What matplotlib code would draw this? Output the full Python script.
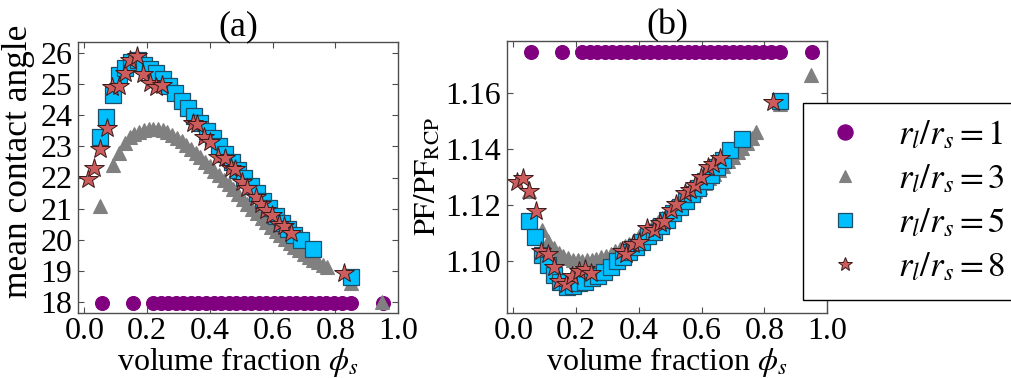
import matplotlib
matplotlib.use('Agg')
import matplotlib.pyplot as plt
from matplotlib.lines import Line2D

plt.rcParams['font.family'] = 'serif'
plt.rcParams['font.serif'] = ['Liberation Serif', 'DejaVu Serif']
plt.rcParams['mathtext.fontset'] = 'stix'

# r_l/r_s = 1
x_c = [0.055, 0.155, 0.22, 0.244, 0.268, 0.292, 0.316, 0.34, 0.364, 0.388, 0.412,
       0.436, 0.46, 0.484, 0.508, 0.532, 0.556, 0.58, 0.604, 0.628, 0.652, 0.676,
       0.70, 0.724, 0.748, 0.772, 0.796, 0.82, 0.85, 0.952]
ang_c = [17.97] * len(x_c)
pf_c = [1.1745] * len(x_c)

# r_l/r_s = 3
x_t = [0.05, 0.09, 0.11, 0.13, 0.145, 0.16, 0.175, 0.19, 0.205, 0.22, 0.235, 0.25,
       0.265, 0.28, 0.295, 0.31, 0.325, 0.34, 0.355, 0.37, 0.385, 0.40, 0.415, 0.43,
       0.445, 0.46, 0.475, 0.49, 0.505, 0.52, 0.535, 0.55, 0.565, 0.58, 0.595, 0.61,
       0.625, 0.64, 0.655, 0.67, 0.685, 0.70, 0.715, 0.73, 0.745, 0.76, 0.775, 0.85, 0.95]
ang_t = [21.1, 22.4, 22.8, 23.1, 23.3, 23.4, 23.47, 23.52, 23.55, 23.56, 23.55, 23.52,
         23.46, 23.38, 23.28, 23.17, 23.05, 22.92, 22.79, 22.65, 22.5, 22.36, 22.22, 22.08,
         21.93, 21.78, 21.63, 21.48, 21.32, 21.16, 21.0, 20.85, 20.7, 20.56, 20.42, 20.28,
         20.15, 20.02, 19.9, 19.78, 19.66, 19.55, 19.45, 19.36, 19.28, 19.2, 19.13, 18.62, 17.99]
pf_t = [1.125, 1.111, 1.107, 1.1045, 1.1028, 1.1018, 1.101, 1.1005, 1.1002, 1.1001, 1.1002, 1.1004,
        1.1008, 1.1013, 1.1019, 1.1026, 1.1034, 1.1043, 1.1052, 1.1062, 1.1075, 1.1088, 1.1101, 1.1114,
        1.1127, 1.114, 1.1153, 1.1166, 1.118, 1.1194, 1.1208, 1.1222, 1.1236, 1.125, 1.1265, 1.128,
        1.1295, 1.131, 1.1325, 1.134, 1.1356, 1.1372, 1.1388, 1.1404, 1.142, 1.1438, 1.1462, 1.156, 1.1664]

# r_l/r_s = 5
x_s = [0.05, 0.07, 0.09, 0.11, 0.13, 0.15, 0.17, 0.19, 0.21, 0.23, 0.25, 0.27, 0.29,
       0.31, 0.33, 0.35, 0.37, 0.39, 0.41, 0.43, 0.45, 0.47, 0.49, 0.51, 0.53, 0.55,
       0.57, 0.59, 0.61, 0.63, 0.65, 0.67, 0.69, 0.73, 0.85]
ang_s = [23.31, 23.95, 24.65, 25.29, 25.51, 25.72, 25.77, 25.61, 25.48, 25.35, 25.15, 24.93, 24.7,
         24.46, 24.22, 23.98, 23.74, 23.5, 23.26, 23.01, 22.76, 22.5, 22.24, 21.99, 21.74, 21.5,
         21.26, 21.02, 20.78, 20.55, 20.34, 20.15, 19.98, 19.7, 18.82]
pf_s = [1.1144, 1.1085, 1.1021, 1.0986, 1.095, 1.0926, 1.0908, 1.0911, 1.092, 1.0926, 1.0938, 1.0946, 1.0962,
        1.098, 1.1, 1.1015, 1.1033, 1.1051, 1.1069, 1.1089, 1.1105, 1.1125, 1.1148, 1.117, 1.1192, 1.1215,
        1.1238, 1.1262, 1.1285, 1.1308, 1.1335, 1.1362, 1.1396, 1.1435, 1.1573]

# r_l/r_s = 8
x_r = [0.013, 0.031, 0.05, 0.071, 0.087, 0.11, 0.129, 0.145, 0.168, 0.187, 0.209, 0.23, 0.249,
       0.346, 0.359, 0.383, 0.402, 0.425, 0.447, 0.468, 0.482, 0.504, 0.519, 0.548, 0.564,
       0.58, 0.599, 0.62, 0.638, 0.659, 0.829]
ang_r = [21.95, 22.31, 22.9, 23.58, 24.92, 24.94, 25.35, 25.78, 25.9, 25.32, 25.03, 24.92, 24.97,
         23.74, 23.72, 23.29, 23.15, 22.65, 22.61, 22.29, 22.26, 21.86, 21.65, 21.36, 21.14,
         20.97, 20.79, 20.5, 20.44, 20.22, 18.92]
pf_r = [1.1283, 1.1295, 1.1251, 1.118, 1.1037, 1.1025, 1.098, 1.093, 1.0918, 1.0946, 1.0965, 1.097, 1.0958,
        1.1037, 1.1025, 1.106, 1.1069, 1.1117, 1.111, 1.1135, 1.1142, 1.1182, 1.1204, 1.1242, 1.1254,
        1.1271, 1.1299, 1.1335, 1.1346, 1.1367, 1.1569]

labels = [r'$r_l/r_s=1$', r'$r_l/r_s=3$', r'$r_l/r_s=5$', r'$r_l/r_s=8$']
styles = [dict(marker='o', ms=10, mfc='purple', mec='purple', mew=0.8),
          dict(marker='^', ms=10.5, mfc='grey', mec='grey', mew=0.8),
          dict(marker='s', ms=12, mfc='#00BFFF', mec='#1f4f66', mew=0.9),
          dict(marker='*', ms=15, mfc='indianred', mec='#3a1a1a', mew=0.7)]
leg_ms = [11, 8, 9.5, 10]

fig = plt.figure(figsize=(10.12, 3.78), dpi=100)
ax1 = fig.add_axes([78/1012, 65/378, 320/1012, 271/378])
ax2 = fig.add_axes([507/1012, 65/378, 320/1012, 272/378])

tfs = 23
series_a = [(x_c, ang_c), (x_t, ang_t), (x_s, ang_s), (x_r, ang_r)]
series_b = [(x_c, pf_c), (x_t, pf_t), (x_s, pf_s), (x_r, pf_r)]
handles = []
for (xa, ya), (xb, yb), st, lab, lm in zip(series_a, series_b, styles, labels, leg_ms):
    ax1.plot(xa, ya, ls='none', **st)
    ax2.plot(xb, yb, ls='none', **st)
    hst = dict(st)
    hst['ms'] = lm
    handles.append(Line2D([], [], ls='none', label=lab, **hst))

for ax in (ax1, ax2):
    ax.set_xlim(-0.02, 1.0)
    ax.set_xticks([0.0, 0.2, 0.4, 0.6, 0.8, 1.0])
    ax.set_xticklabels(['%.1f' % v for v in [0.0, 0.2, 0.4, 0.6, 0.8, 1.0]])
    ax.tick_params(direction='in', top=True, right=True, length=4, width=0.8,
                   labelsize=tfs, color='0.3', pad=3)
    ax.tick_params(axis='y', pad=4)
    for s in ax.spines.values():
        s.set_color('0.3')
        s.set_linewidth(1.0)
    ax.set_xlabel(r'volume fraction $\phi_s$', fontsize=23, labelpad=-1)

ax1.set_ylim(17.65, 26.35)
ax1.set_yticks(range(18, 27))
ax1.set_ylabel('mean contact angle', fontsize=25.5)
ax1.yaxis.set_label_coords(-0.133, 0.56)
ax1.set_title('(a)', fontsize=26, pad=5)

ax2.set_ylim(1.0814, 1.1786)
ax2.set_yticks([1.10, 1.12, 1.14, 1.16])
ax2.set_yticklabels(['%.2f' % v for v in [1.10, 1.12, 1.14, 1.16]])
ax2.set_ylabel(r'$\mathrm{PF}/\mathrm{PF}_{\mathrm{RCP}}$', fontsize=22, labelpad=2)
ax2.set_title('(b)', fontsize=26, pad=5)

leg = fig.legend(handles=handles, loc='lower left', bbox_to_anchor=(803/1012, 78/378),
                 bbox_transform=fig.transFigure, fontsize=25,
                 fancybox=False, framealpha=1, edgecolor='black', borderaxespad=0,
                 labelspacing=0.32, handletextpad=0.8, borderpad=0.45, handlelength=1.5)
leg.get_frame().set_linewidth(1.0)

fig.savefig('out.png', dpi=100)
